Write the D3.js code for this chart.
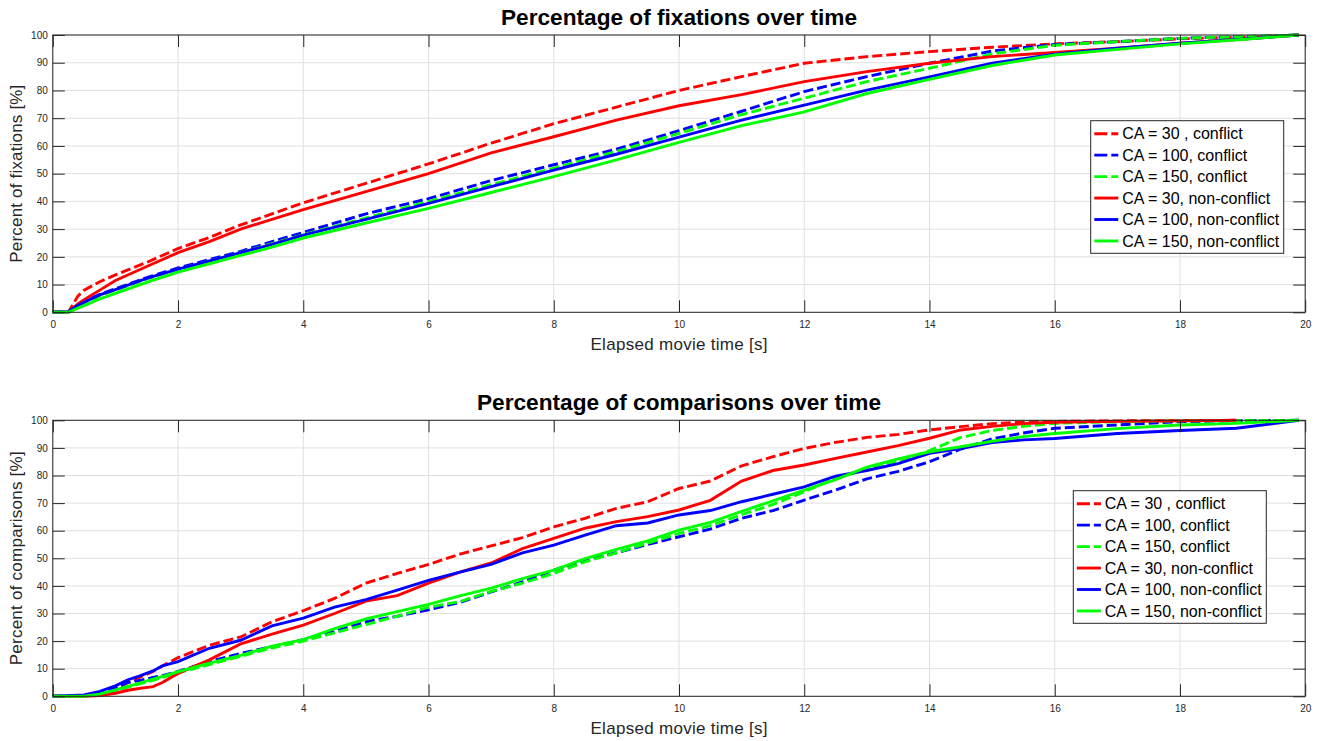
<!DOCTYPE html>
<html>
<head>
<meta charset="utf-8">
<script src="https://cdn.jsdelivr.net/npm/d3@7"></script>
<style>
  html, body { margin: 0; padding: 0; background: #ffffff; }
  svg { display: block; font-family: "Liberation Sans", Arial, Helvetica, sans-serif; }
</style>
</head>
<body>
<svg id="chart" width="1321" height="741"></svg>
<script>
// ---- Series labels, colours and dash styles ----
const seriesNames = [
  "CA = 30 , conflict",
  "CA = 100, conflict",
  "CA = 150, conflict",
  "CA = 30, non-conflict",
  "CA = 100, non-conflict",
  "CA = 150, non-conflict"
];
const seriesColors = ["#ff0000", "#0000ff", "#00ff00", "#ff0000", "#0000ff", "#00ff00"];
const seriesDashed = [true, true, true, false, false, false];

// ---- Axis ticks ----
const xTicks = [0, 2, 4, 6, 8, 10, 12, 14, 16, 18, 20];
const yTicks = [0, 10, 20, 30, 40, 50, 60, 70, 80, 90, 100];

// ---- Fixations: elapsed time [s] and cumulative percent ----
const fixTime = [0, 0.25, 0.4, 0.5, 0.75, 1, 1.5, 2, 2.5, 3, 3.5, 4, 5, 6, 7, 8, 9, 10, 11, 12, 13, 14, 15, 16, 17, 18, 19, 19.9];
const fixC30   = [0, 0, 5.8, 8, 11, 13.5, 18, 23, 27, 31.5, 35.5, 39.5, 46.5, 53.5, 61, 68, 74, 80, 85, 89.8, 92.2, 94, 95.6, 96.8, 97.6, 98.6, 99.3, 100];
const fixC100  = [0, 0.3, 2.5, 3.8, 6.5, 8.5, 12.5, 16, 19, 22, 25.5, 28.8, 35.5, 41, 47.5, 53.2, 58.8, 65.5, 72.5, 79.6, 85, 89.8, 94.2, 96.6, 97.6, 98.8, 99.4, 100];
const fixC150  = [0, 0.2, 2, 3.2, 6, 8, 12, 15.5, 18.5, 21.5, 24.8, 28, 34, 40, 46, 52, 58, 64.5, 71.3, 77.2, 83.2, 88, 93.2, 96.3, 97.6, 98.8, 99.4, 100];
const fixN30   = [0, 0, 3, 4.5, 8, 11.5, 16.5, 21.5, 25.5, 30, 33.5, 37, 43.5, 50, 57.5, 63.3, 69.3, 74.5, 78.5, 83.2, 86.8, 89.8, 92.2, 93.7, 95.2, 97, 98.5, 100];
const fixN100  = [0, 0.2, 2.5, 3.6, 6.3, 8.2, 12.2, 15.6, 18.5, 21.5, 24.5, 27.8, 33.5, 39.3, 45.3, 51.3, 57, 63.2, 69.3, 74.7, 80.1, 84.9, 89.8, 93.1, 95.2, 97, 98.5, 100];
const fixN150  = [0, 0, 1.5, 2.4, 4.8, 6.8, 10.8, 14.5, 17.5, 20.5, 23.5, 26.8, 32.2, 37.5, 43.2, 48.9, 55, 61.3, 67.3, 72.3, 78.9, 84, 89, 92.8, 94.8, 96.8, 98.4, 100];

// ---- Comparisons: elapsed time [s] and cumulative percent (null = no data) ----
const cmpTime = [0, 0.5, 0.75, 1, 1.2, 1.4, 1.6, 1.75, 2, 2.5, 3, 3.5, 4, 4.5, 5, 5.5, 6, 6.5, 7, 7.5, 8, 8.5, 9, 9.5, 10, 10.5, 11, 11.5, 12, 12.5, 13, 13.5, 14, 14.5, 15, 15.5, 16, 17, 18, 18.9, 19.9];
const cmpC30   = [0, 0.2, 0.8, 2.5, 5, 7, 9, 11, 14, 18.5, 21.5, 27, 31, 35.5, 41, 44.5, 47.8, 51.5, 54.5, 57.5, 61.4, 64.5, 68.1, 70.5, 75.3, 78, 83.5, 86.8, 89.8, 92, 93.8, 94.9, 96.5, 97.7, 98.8, 99.4, 99.6, 99.8, 99.9, 100, null];
const cmpC100  = [0, 0.3, 1.2, 3, 5, 5.8, 6.8, 7.5, 9, 12.6, 15.5, 18, 20.5, 23.5, 27, 29, 31.3, 34, 37.8, 41.5, 45.7, 49.4, 52, 55, 57.8, 60.6, 64.5, 67.3, 71.1, 74.7, 78.8, 81.5, 85, 89.6, 93.3, 95.4, 97.1, 98.3, 99.5, 99.8, 100];
const cmpC150  = [0, 0.1, 0.8, 2, 3.3, 4.6, 5.8, 6.8, 8.5, 11.5, 14.5, 17.5, 20, 23, 26, 29, 32.3, 34.3, 38, 41, 44.5, 48.7, 52, 55.5, 59, 61.8, 65.8, 69.5, 74.1, 79, 82.2, 85, 89, 93.8, 96.3, 97.8, 98.9, 99.5, 99.8, 99.9, 100];
const cmpN30   = [0, 0, 0.3, 1.1, 2.2, 2.9, 3.5, 5, 8.3, 13.2, 19, 22.5, 25.8, 30, 34.5, 36.5, 41, 45, 48.3, 53.5, 57.2, 60.9, 63.3, 65.1, 67.5, 71, 78, 81.8, 83.8, 86.2, 88.5, 90.8, 93.5, 96.5, 97.8, 98.8, 99.3, 99.6, 99.8, 100, null];
const cmpN100  = [0, 0.5, 1.8, 3.8, 6, 7.5, 9.2, 11, 12.6, 17.4, 20.3, 25.5, 28.3, 32.3, 35, 38.5, 42, 45, 47.8, 52, 54.8, 58.4, 61.8, 62.8, 65.7, 67.3, 70.5, 73.2, 75.9, 79.8, 81.8, 84.3, 88, 89.8, 91.9, 92.9, 93.4, 95.2, 96.3, 97.1, 100];
const cmpN150  = [0, 0, 0.8, 2.3, 3.6, 4.9, 6.2, 7.2, 8.9, 12, 14.8, 18.2, 20.5, 24.5, 28, 30.7, 33.3, 36.4, 39.2, 42.6, 45.7, 49.9, 53.2, 56.3, 60.2, 63, 67, 70.8, 74.7, 78.5, 83, 86, 88.6, 90.4, 92.4, 94.1, 95.2, 97, 98.3, 98.9, 100];

const svg = d3.select("#chart");
svg.append("rect").attr("width", 1321).attr("height", 741).attr("fill", "#ffffff");

const AX_LEFT = 52.8, AX_RIGHT = 1305.2;
const TEXT_DARK = "#262626";
const LINE_W = 2.9;

function drawPanel(cfg) {
  const x = d3.scaleLinear().domain([0, 20]).range([AX_LEFT, AX_RIGHT]);
  const y = d3.scaleLinear().domain([0, 100]).range([cfg.bottom, cfg.top]);
  const g = svg.append("g");

  // grid
  g.append("g").selectAll("line").data(xTicks).join("line")
    .attr("x1", d => x(d)).attr("x2", d => x(d))
    .attr("y1", cfg.top).attr("y2", cfg.bottom)
    .attr("stroke", "#e0e0e0").attr("stroke-width", 1);
  g.append("g").selectAll("line").data(yTicks).join("line")
    .attr("x1", AX_LEFT).attr("x2", AX_RIGHT)
    .attr("y1", d => y(d)).attr("y2", d => y(d))
    .attr("stroke", "#e0e0e0").attr("stroke-width", 1);

  // data lines
  const line = d3.line()
    .defined(d => d[1] !== null)
    .x(d => x(d[0])).y(d => y(d[1]));
  cfg.values.forEach((vals, i) => {
    const pts = cfg.time.map((t, k) => [t, vals[k]]);
    g.append("path")
      .datum(pts)
      .attr("d", line)
      .attr("fill", "none")
      .attr("stroke", seriesColors[i])
      .attr("stroke-width", LINE_W)
      .attr("stroke-dasharray", seriesDashed[i] ? "10,4" : null);
  });

  // axes with inward ticks on all four sides
  const styleAxis = sel => {
    sel.select(".domain").remove();
    sel.selectAll(".tick line").attr("stroke", TEXT_DARK);
    sel.selectAll(".tick text").attr("fill", TEXT_DARK)
      .style("font-size", "10px")
      .style("font-family", "'Liberation Sans', Arial, Helvetica, sans-serif");
  };
  g.append("g").attr("transform", `translate(0,${cfg.bottom})`)
    .call(d3.axisBottom(x).tickValues(xTicks).tickSize(-12).tickSizeOuter(0).tickPadding(9))
    .call(styleAxis);
  g.append("g").attr("transform", `translate(0,${cfg.top})`)
    .call(d3.axisTop(x).tickValues(xTicks).tickSize(-12).tickSizeOuter(0).tickFormat(""))
    .call(styleAxis);
  g.append("g").attr("transform", `translate(${AX_LEFT},0)`)
    .call(d3.axisLeft(y).tickValues(yTicks).tickSize(-12).tickSizeOuter(0).tickPadding(5))
    .call(styleAxis);
  g.append("g").attr("transform", `translate(${AX_RIGHT},0)`)
    .call(d3.axisRight(y).tickValues(yTicks).tickSize(-12).tickSizeOuter(0).tickFormat(""))
    .call(styleAxis);

  // axes box
  g.append("rect")
    .attr("x", AX_LEFT).attr("y", cfg.top)
    .attr("width", AX_RIGHT - AX_LEFT).attr("height", cfg.bottom - cfg.top)
    .attr("fill", "none").attr("stroke", TEXT_DARK).attr("stroke-width", 1);

  // title and axis labels
  g.append("text")
    .attr("x", (AX_LEFT + AX_RIGHT) / 2).attr("y", cfg.top - 10)
    .attr("text-anchor", "middle")
    .attr("font-weight", "bold").attr("font-size", 22).attr("fill", "#000")
    .attr("textLength", cfg.titleWidth).attr("lengthAdjust", "spacingAndGlyphs")
    .text(cfg.title);
  g.append("text")
    .attr("x", (AX_LEFT + AX_RIGHT) / 2).attr("y", cfg.bottom + 38)
    .attr("text-anchor", "middle")
    .attr("font-size", 17).attr("fill", TEXT_DARK)
    .attr("textLength", 177).attr("lengthAdjust", "spacing")
    .text("Elapsed movie time [s]");
  g.append("text")
    .attr("transform", `translate(22,${(cfg.top + cfg.bottom) / 2}) rotate(-90)`)
    .attr("text-anchor", "middle")
    .attr("font-size", 17).attr("fill", TEXT_DARK)
    .attr("textLength", cfg.ylabelWidth).attr("lengthAdjust", "spacing")
    .text(cfg.ylabel);

  // legend
  const lg = g.append("g").attr("transform", `translate(${cfg.legendX},${cfg.legendY})`);
  lg.append("rect")
    .attr("width", 193).attr("height", 132.6)
    .attr("fill", "#ffffff").attr("stroke", TEXT_DARK).attr("stroke-width", 1);
  seriesNames.forEach((name, i) => {
    const cy = 13 + i * 21.45;
    lg.append("line")
      .attr("x1", 3.6).attr("x2", 27.6).attr("y1", cy).attr("y2", cy)
      .attr("stroke", seriesColors[i]).attr("stroke-width", LINE_W)
      .attr("stroke-dasharray", seriesDashed[i] ? "13,4" : null);
    lg.append("text")
      .attr("x", 31.5).attr("y", cy).attr("dy", "0.36em")
      .attr("font-size", 16).attr("fill", "#000")
      .text(name);
  });
}

drawPanel({
  top: 35, bottom: 312.3,
  title: "Percentage of fixations over time", titleWidth: 356,
  ylabel: "Percent of fixations [%]", ylabelWidth: 178,
  time: fixTime,
  values: [fixC30, fixC100, fixC150, fixN30, fixN100, fixN150],
  legendX: 1090.7, legendY: 120.7
});

drawPanel({
  top: 420.3, bottom: 696.3,
  title: "Percentage of comparisons over time", titleWidth: 404,
  ylabel: "Percent of comparisons [%]", ylabelWidth: 214,
  time: cmpTime,
  values: [cmpC30, cmpC100, cmpC150, cmpN30, cmpN100, cmpN150],
  legendX: 1073.3, legendY: 490.7
});
</script>
</body>
</html>
